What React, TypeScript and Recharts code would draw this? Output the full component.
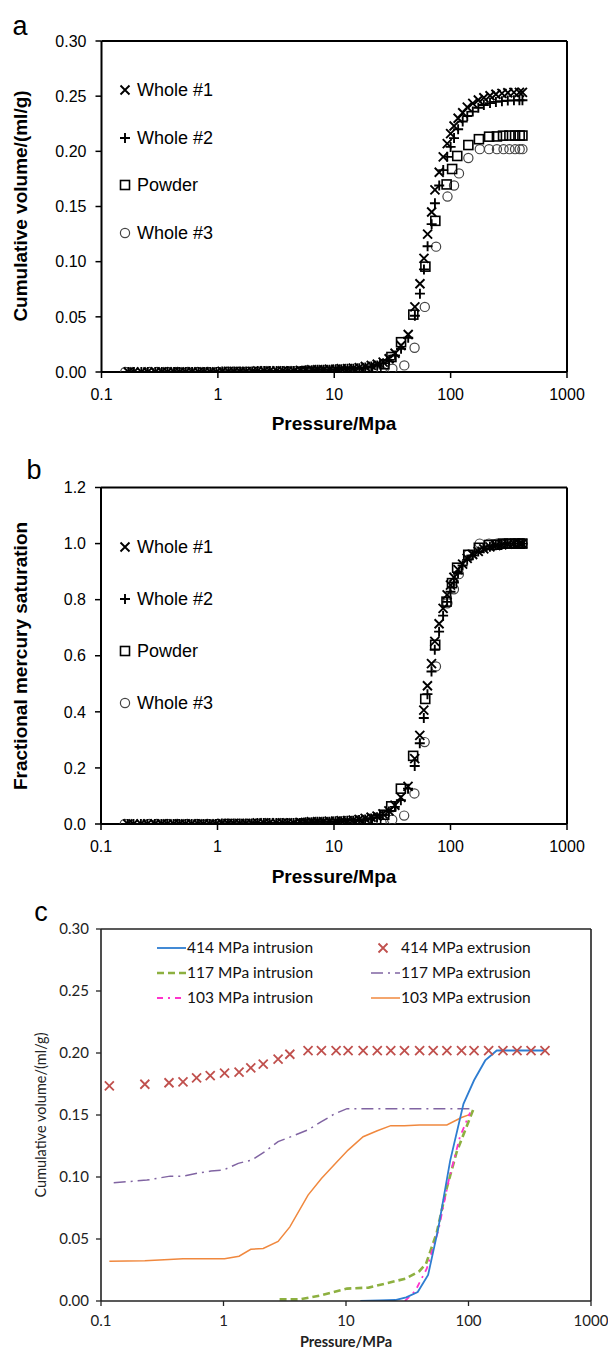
import React from "react";
import {
  ScatterChart,
  Scatter,
  ComposedChart,
  Line,
  XAxis,
  YAxis,
  ReferenceLine,
} from "recharts";

// ---- panel a / b : intrusion curves (pressure in MPa) ----
const wholePressure = [
  0.17, 0.19, 0.22, 0.25, 0.29, 0.33, 0.37, 0.42, 0.47, 0.53, 0.6, 0.68, 0.76, 0.86, 0.97,
  1.09, 1.23, 1.38, 1.55, 1.75, 1.97, 2.2, 2.5, 2.8, 3.2, 3.6, 4.0, 4.5, 5.1, 5.7, 6.4, 7.2,
  8.1, 9.1, 10.3, 11.5, 13, 14.6, 16.4, 18.5, 20.8, 23.4, 26.3, 29.6, 33.3, 37.5, 43.2, 49.3,
  54.5, 59, 63.4, 68.7, 73.3, 79.8, 86.4, 93.5, 100, 107, 116, 127, 139, 155, 173, 193, 218,
  245, 276, 310, 350, 390, 414,
];
const whole1Volume = [
  0, 0, 0, 0, 0, 0, 0, 0, 0, 0, 0, 0, 0, 0, 0,
  0.0005, 0.0005, 0.0005, 0.0005, 0.0005, 0.0005, 0.001, 0.001, 0.001, 0.001, 0.001, 0.001,
  0.001, 0.0015, 0.0015, 0.002, 0.002, 0.002, 0.0025, 0.0025, 0.003, 0.003, 0.0035, 0.004,
  0.005, 0.006, 0.007, 0.009, 0.012, 0.017, 0.024, 0.034, 0.059, 0.08, 0.103, 0.125, 0.145,
  0.165, 0.181, 0.195, 0.207, 0.216, 0.223, 0.23, 0.235, 0.24, 0.2435, 0.2465, 0.2486, 0.2504,
  0.2517, 0.2526, 0.2531, 0.2535, 0.2535, 0.2535,
];
const whole2Volume = [
  0, 0, 0, 0, 0, 0, 0, 0, 0, 0, 0, 0, 0, 0, 0,
  0.0005, 0.0005, 0.0005, 0.0005, 0.0005, 0.0005, 0.001, 0.001, 0.001, 0.001, 0.001, 0.001,
  0.001, 0.001, 0.0015, 0.0015, 0.002, 0.002, 0.002, 0.0025, 0.0025, 0.003, 0.003, 0.0035,
  0.004, 0.005, 0.006, 0.008, 0.011, 0.015, 0.021, 0.031, 0.051, 0.071, 0.093, 0.114, 0.134,
  0.153, 0.169, 0.183, 0.195, 0.204, 0.212, 0.22, 0.227, 0.232, 0.236, 0.2395, 0.242, 0.2437,
  0.2448, 0.2455, 0.246, 0.2462, 0.2463, 0.2463,
];
const whole3Pressure = [
  0.16, 0.26, 0.3, 0.37, 0.45, 0.55, 0.67, 0.82, 1.0, 1.2, 1.5, 1.8, 2.2, 2.7, 3.3, 4.0, 4.9,
  6.0, 7.3, 8.9, 10.8, 13.2, 16, 19.5, 25.6, 31.6, 40, 49, 60, 75, 94, 107, 118, 142, 178,
  214, 250, 285, 320, 358, 392, 414,
];
const whole3Volume = [
  0, 0, 0, 0, 0, 0, 0, 0, 0, 0, 0, 0, 0, 0, 0, 0, 0, 0, 0, 0, 0, 0, 0,
  0.0005, 0.001, 0.003, 0.006, 0.022, 0.059, 0.1136, 0.159, 0.169, 0.18, 0.194, 0.202,
  0.202, 0.202, 0.202, 0.202, 0.202, 0.202, 0.202,
];
const powderPressure = [
  5.2, 6.1, 7.2, 8.5, 10.0, 11.8, 13.9, 16.4, 19.5, 23, 27, 31, 37.5, 47.8, 60.7, 73.9, 92.4,
  103, 114, 142, 175, 214, 250, 282, 320, 358, 392, 414,
];
const powderVolume = [
  0, 0, 0, 0, 0, 0, 0, 0, 0.001, 0.003, 0.007, 0.0136, 0.027, 0.052, 0.0955, 0.137, 0.17,
  0.184, 0.1958, 0.2057, 0.211, 0.2133, 0.2135, 0.2142, 0.2143, 0.2143, 0.2143, 0.2143,
];

// fractional saturation (panel b)
const whole1Sat = [
  0, 0, 0, 0, 0, 0, 0, 0, 0, 0, 0, 0, 0, 0, 0,
  0.002, 0.002, 0.002, 0.002, 0.002, 0.002, 0.004, 0.004, 0.004, 0.004, 0.004, 0.004, 0.004,
  0.006, 0.006, 0.008, 0.008, 0.008, 0.01, 0.01, 0.012, 0.012, 0.014, 0.016, 0.02, 0.024,
  0.028, 0.036, 0.047, 0.067, 0.095, 0.134, 0.233, 0.316, 0.406, 0.493, 0.572, 0.651, 0.714,
  0.769, 0.817, 0.852, 0.88, 0.907, 0.927, 0.947, 0.961, 0.972, 0.981, 0.988, 0.993, 0.996,
  0.998, 1, 1, 1,
];
const whole2Sat = [
  0, 0, 0, 0, 0, 0, 0, 0, 0, 0, 0, 0, 0, 0, 0,
  0.002, 0.002, 0.002, 0.002, 0.002, 0.002, 0.004, 0.004, 0.004, 0.004, 0.004, 0.004, 0.004,
  0.004, 0.006, 0.006, 0.008, 0.008, 0.008, 0.01, 0.01, 0.012, 0.012, 0.014, 0.016, 0.02,
  0.024, 0.032, 0.045, 0.061, 0.085, 0.126, 0.207, 0.288, 0.378, 0.463, 0.544, 0.621, 0.686,
  0.743, 0.792, 0.828, 0.861, 0.893, 0.922, 0.942, 0.958, 0.972, 0.983, 0.989, 0.994, 0.997,
  0.999, 1, 1, 1,
];
const whole3Sat = [
  0, 0, 0, 0, 0, 0, 0, 0, 0, 0, 0, 0, 0, 0, 0, 0, 0, 0, 0, 0, 0, 0, 0,
  0.002, 0.005, 0.015, 0.03, 0.109, 0.292, 0.562, 0.787, 0.837, 0.891, 0.96, 1, 1, 1, 1, 1,
  1, 1, 1,
];
const powderSat = [
  0, 0, 0, 0, 0, 0, 0, 0, 0.005, 0.014, 0.033, 0.063, 0.126, 0.243, 0.446, 0.639, 0.793,
  0.859, 0.914, 0.96, 0.985, 0.995, 0.996, 1, 1, 1, 1, 1,
];

// ---- panel c : intrusion / extrusion ----
const int414Pressure = [13.1, 18.9, 25.2, 31, 38.5, 46.8, 56.5, 70.8, 91, 111, 137, 170, 200, 250, 330, 414];
const int414Volume = [0, 0.0005, 0.0008, 0.003, 0.0072, 0.021, 0.058, 0.113, 0.159, 0.178, 0.194, 0.202, 0.202, 0.202, 0.202, 0.202];

const ext414Pressure = [
  0.117, 0.228, 0.359, 0.467, 0.603, 0.779, 1.02, 1.34, 1.67, 2.11, 2.79, 3.48, 4.9, 6.3, 8.3,
  10.4, 13.8, 18.0, 23.2, 30.0, 39.9, 51.5, 66.6, 87.7, 111, 146, 191, 249, 324, 421,
];
const ext414Volume = [
  0.1734, 0.1748, 0.176, 0.1767, 0.18, 0.1818, 0.1837, 0.1845, 0.188, 0.191, 0.195, 0.199,
  0.202, 0.202, 0.202, 0.202, 0.202, 0.202, 0.202, 0.202, 0.202, 0.202, 0.202, 0.202, 0.202,
  0.202, 0.202, 0.202, 0.202, 0.202,
];

const int117Pressure = [2.87, 4.2, 6.3, 10.2, 15.3, 21.9, 30.5, 39.7, 45, 55, 66, 80, 110];
const int117Volume = [0.0013, 0.0013, 0.0046, 0.01, 0.0108, 0.0145, 0.018, 0.024, 0.03, 0.055, 0.09, 0.12, 0.155];

const ext117Pressure = [
  0.127, 0.237, 0.367, 0.474, 0.61, 0.79, 1.0, 1.32, 1.7, 2.17, 2.79, 3.66, 4.9, 6.3, 8.1,
  10.2, 13.8, 18.0, 23.2, 30.0, 39.9, 51.5, 66.6, 87.7, 111,
];
const ext117Volume = [
  0.0953, 0.0975, 0.1007, 0.1007, 0.103, 0.1048, 0.1056, 0.111, 0.1137, 0.1204, 0.1285, 0.133,
  0.138, 0.1446, 0.151, 0.1551, 0.1551, 0.1551, 0.1551, 0.1551, 0.1551, 0.1551, 0.1551, 0.1551,
  0.1551,
];

const int103Pressure = [30.3, 36.7, 45.6, 56.8, 68.8, 84.9, 103];
const int103Volume = [0, 0.008, 0.026, 0.057, 0.097, 0.132, 0.152];

const ext103Pressure = [
  0.117, 0.228, 0.359, 0.467, 0.603, 0.779, 1.02, 1.34, 1.67, 2.11, 2.79, 3.48, 4.9, 6.3, 8.3,
  10.4, 13.8, 18.0, 23.2, 30.0, 39.9, 51.5, 66.6, 87.7, 103,
];
const ext103Volume = [
  0.032, 0.0325, 0.0335, 0.034, 0.034, 0.034, 0.034, 0.0361, 0.0417, 0.0423, 0.048, 0.0598,
  0.0854, 0.0988, 0.1115, 0.1217, 0.1325, 0.1373, 0.1414, 0.1414, 0.142, 0.142, 0.142, 0.148,
  0.1505,
];

const pressureTicks = [0.1, 1, 10, 100, 1000];
const volumeTicks = [0, 0.05, 0.1, 0.15, 0.2, 0.25, 0.3];
const satTicks = [0, 0.2, 0.4, 0.6, 0.8, 1.0, 1.2];

const zip = (p: number[], v: number[]) => p.map((x, i) => ({ p: x, v: v[i] }));

const ARIAL = '"Liberation Sans", Arial, sans-serif';
const LATO = 'Lato, "Open Sans", sans-serif';

// marker shapes
const Cross = (props: any) => {
  const { cx, cy } = props;
  const s = 4.5;
  return (
    <path
      d={`M${cx - s},${cy - s}L${cx + s},${cy + s}M${cx - s},${cy + s}L${cx + s},${cy - s}`}
      stroke={props.color || "#000"}
      strokeWidth={props.sw || 1.9}
      fill="none"
    />
  );
};
const Plus = (props: any) => {
  const { cx, cy } = props;
  const s = 5;
  return (
    <path d={`M${cx - s},${cy}L${cx + s},${cy}M${cx},${cy - s}L${cx},${cy + s}`} stroke="#000" strokeWidth={1.9} fill="none" />
  );
};
const Square = (props: any) => {
  const { cx, cy } = props;
  return <rect x={cx - 4.5} y={cy - 4.5} width={9} height={9} stroke="#000" strokeWidth={1.6} fill="none" />;
};
const Circle = (props: any) => {
  const { cx, cy } = props;
  return <circle cx={cx} cy={cy} r={4.6} stroke="#444" strokeWidth={1.2} fill="none" />;
};
const RedCross = (props: any) => <Cross {...props} color="#C0504D" sw={1.8} />;

const Text = ({ x, y, children, size, bold, rotate, family, color }: any) => (
  <div
    style={{
      position: "absolute",
      left: x,
      top: y,
      transform: `translate(-50%, -50%)${rotate ? " rotate(-90deg)" : ""}`,
      whiteSpace: "nowrap",
      fontSize: size,
      fontWeight: bold ? "bold" : "normal",
      fontFamily: family || ARIAL,
      lineHeight: 1,
      color: color || "#000",
    }}
  >
    {children}
  </div>
);

const markerLegend = [
  { name: "Whole #1", Shape: Cross },
  { name: "Whole #2", Shape: Plus },
  { name: "Powder", Shape: Square },
  { name: "Whole #3", Shape: Circle },
];

const SymbolLegend = ({ rows }: { rows: number[] }) => (
  <>
    {markerLegend.map((m, i) => (
      <React.Fragment key={m.name}>
        <svg style={{ position: "absolute", left: 118, top: rows[i] - 7 }} width={14} height={14}>
          <m.Shape cx={7} cy={7} />
        </svg>
        <div
          style={{
            position: "absolute",
            left: 137,
            top: rows[i],
            transform: "translateY(-50%)",
            fontSize: 18,
            fontFamily: ARIAL,
            lineHeight: 1,
            whiteSpace: "nowrap",
          }}
        >
          {m.name}
        </div>
      </React.Fragment>
    ))}
  </>
);

const ScatterPanel = ({ top, sets, domain, ticks, fmt, margin }: any) => (
  <div style={{ position: "absolute", left: 0, top, fontFamily: ARIAL }}>
    <ScatterChart width={608} height={450} margin={margin}>
      <XAxis
        dataKey="p"
        type="number"
        scale="log"
        domain={[0.1, 1000]}
        ticks={pressureTicks}
        allowDataOverflow
        height={30}
        tickSize={6}
        tickMargin={11}
        tickFormatter={(v: number) => String(v)}
        axisLine={{ stroke: "#000", strokeWidth: 2 }}
        tickLine={{ stroke: "#000", strokeWidth: 1.5 }}
        tick={{ fontSize: 16, fill: "#000" }}
      />
      <YAxis
        dataKey="v"
        type="number"
        domain={domain}
        ticks={ticks}
        allowDataOverflow
        width={60}
        tickSize={6}
        tickMargin={9}
        tickFormatter={fmt}
        axisLine={{ stroke: "#000", strokeWidth: 2 }}
        tickLine={{ stroke: "#000", strokeWidth: 1.5 }}
        tick={{ fontSize: 16, fill: "#000" }}
      />
      <ReferenceLine y={domain[1]} stroke="#000" strokeWidth={2} />
      <ReferenceLine x={1000} stroke="#000" strokeWidth={2} />
      <Scatter data={sets[3]} shape={Circle} isAnimationActive={false} />
      <Scatter data={sets[2]} shape={Square} isAnimationActive={false} />
      <Scatter data={sets[1]} shape={Plus} isAnimationActive={false} />
      <Scatter data={sets[0]} shape={Cross} isAnimationActive={false} />
    </ScatterChart>
  </div>
);

const lineLegend = [
  { name: "414 MPa intrusion", color: "#2E7DD1", dash: undefined, w: 1.8, x: 157, y: 948 },
  { name: "414 MPa extrusion", color: "#C0504D", dash: "marker", w: 1.8, x: 371, y: 948 },
  { name: "117 MPa intrusion", color: "#8DB040", dash: "7 4", w: 2.6, x: 157, y: 973 },
  { name: "117 MPa extrusion", color: "#8064A2", dash: "12 5 2 5", w: 1.5, x: 371, y: 973 },
  { name: "103 MPa intrusion", color: "#FF33CC", dash: "6 5 2 5", w: 1.8, x: 157, y: 998 },
  { name: "103 MPa extrusion", color: "#F0883E", dash: undefined, w: 1.5, x: 371, y: 998 },
];

export default function App() {
  return (
    <div style={{ position: "absolute", left: 0, top: 0, width: 608, height: 1350, background: "#fff" }}>
      {/* panel a */}
      <ScatterPanel
        top={0}
        margin={{ top: 41, right: 41, bottom: 48, left: 41.5 }}
        domain={[0, 0.3]}
        ticks={volumeTicks}
        fmt={(v: number) => v.toFixed(2)}
        sets={[
          zip(wholePressure, whole1Volume),
          zip(wholePressure, whole2Volume),
          zip(powderPressure, powderVolume),
          zip(whole3Pressure, whole3Volume),
        ]}
      />
      <Text x={20} y={26} size={27}>a</Text>
      <Text x={20} y={206} size={19} bold rotate>Cumulative volume/(ml/g)</Text>
      <Text x={334} y={423} size={19} bold>Pressure/Mpa</Text>
      <SymbolLegend rows={[90, 137.5, 185, 232.5]} />

      {/* panel b */}
      <ScatterPanel
        top={450}
        margin={{ top: 37.5, right: 41, bottom: 46, left: 41 }}
        domain={[0, 1.2]}
        ticks={satTicks}
        fmt={(v: number) => v.toFixed(1)}
        sets={[
          zip(wholePressure, whole1Sat),
          zip(wholePressure, whole2Sat),
          zip(powderPressure, powderSat),
          zip(whole3Pressure, whole3Sat),
        ]}
      />
      <Text x={34} y={470} size={27}>b</Text>
      <Text x={20} y={656} size={19} bold rotate>Fractional mercury saturation</Text>
      <Text x={334} y={876} size={19} bold>Pressure/Mpa</Text>
      <SymbolLegend rows={[547, 599, 651, 702.5]} />

      {/* panel c */}
      <div style={{ position: "absolute", left: 0, top: 880, fontFamily: LATO }}>
        <ComposedChart width={608} height={470} margin={{ top: 49, right: 17, bottom: 19, left: 41 }}>
          <XAxis
            dataKey="p"
            type="number"
            scale="log"
            domain={[0.1, 1000]}
            ticks={pressureTicks}
            allowDataOverflow
            height={30}
            tickSize={5}
            tickMargin={9}
            tickFormatter={(v: number) => String(v)}
            axisLine={{ stroke: "#222", strokeWidth: 1.6 }}
            tickLine={{ stroke: "#222", strokeWidth: 1.3 }}
            tick={{ fontSize: 15, fill: "#222" }}
          />
          <YAxis
            dataKey="v"
            type="number"
            domain={[0, 0.3]}
            ticks={volumeTicks}
            allowDataOverflow
            width={60}
            tickSize={5}
            tickMargin={7}
            tickFormatter={(v: number) => v.toFixed(2)}
            axisLine={{ stroke: "#222", strokeWidth: 1.6 }}
            tickLine={{ stroke: "#222", strokeWidth: 1.3 }}
            tick={{ fontSize: 15, fill: "#222" }}
          />
          <ReferenceLine y={0.3} stroke="#222" strokeWidth={1.6} />
          <ReferenceLine x={1000} stroke="#222" strokeWidth={1.6} />
          <Line data={zip(ext117Pressure, ext117Volume)} dataKey="v" stroke="#8064A2" strokeWidth={1.5} strokeDasharray="12 5 2 5" dot={false} isAnimationActive={false} />
          <Line data={zip(ext103Pressure, ext103Volume)} dataKey="v" stroke="#F0883E" strokeWidth={1.5} dot={false} isAnimationActive={false} />
          <Line data={zip(int117Pressure, int117Volume)} dataKey="v" stroke="#8DB040" strokeWidth={2.6} strokeDasharray="7 4" dot={false} isAnimationActive={false} />
          <Line data={zip(int103Pressure, int103Volume)} dataKey="v" stroke="#FF33CC" strokeWidth={1.8} strokeDasharray="6 5 2 5" dot={false} isAnimationActive={false} />
          <Line data={zip(int414Pressure, int414Volume)} dataKey="v" stroke="#2E7DD1" strokeWidth={1.8} dot={false} isAnimationActive={false} />
          <Scatter data={zip(ext414Pressure, ext414Volume)} dataKey="v" shape={RedCross} isAnimationActive={false} />
        </ComposedChart>
      </div>
      <Text x={41} y={912} size={27}>c</Text>
      <Text x={41} y={1115} size={14.5} family={LATO} rotate color="#222">Cumulative volume/(ml/g)</Text>
      <Text x={346} y={1341.5} size={14.5} family={LATO} bold color="#222">Pressure/MPa</Text>
      {lineLegend.map((l) => (
        <React.Fragment key={l.name}>
          <svg style={{ position: "absolute", left: l.x, top: l.y - 6 }} width={30} height={12}>
            {l.dash === "marker" ? (
              <RedCross cx={12} cy={6} />
            ) : (
              <line x1={0} y1={6} x2={29} y2={6} stroke={l.color} strokeWidth={l.w} strokeDasharray={l.dash} />
            )}
          </svg>
          <div
            style={{
              position: "absolute",
              left: l.x + 30,
              top: l.y,
              transform: "translateY(-50%)",
              fontSize: 15.5,
              fontFamily: LATO,
              lineHeight: 1,
              whiteSpace: "nowrap",
              color: "#111",
            }}
          >
            {l.name}
          </div>
        </React.Fragment>
      ))}
    </div>
  );
}
